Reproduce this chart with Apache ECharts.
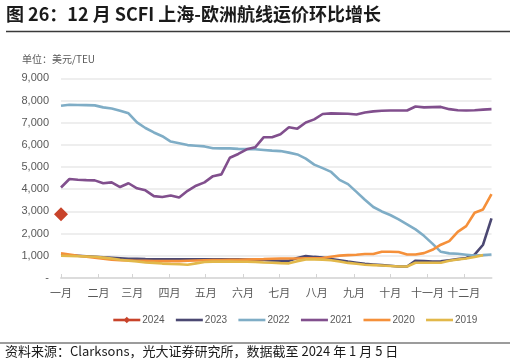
<!DOCTYPE html>
<html>
<head>
<meta charset="utf-8">
<script src="https://cdn.jsdelivr.net/npm/echarts@6/dist/echarts.min.js"></script>
<style>
html,body{margin:0;padding:0;background:#fff;}
#c{width:516px;height:364px;}
</style>
</head>
<body>
<div id="c"></div>
<script>
// Weekly points (day offset = week index * 7)
const monthStarts = [0, 31, 59, 90, 120, 151, 181, 212, 243, 273, 304, 334];
const monthNames = ['一月','二月','三月','四月','五月','六月','七月','八月','九月','十月','十一月','十二月'];
const yTicks = [0, 1000, 2000, 3000, 4000, 5000, 6000, 7000, 8000, 9000];

const s2024 = [2870];
const s2023 = [1040,1020,1000,980,960,930,910,890,870,860,850,845,840,840,840,845,840,840,840,840,840,840,830,820,810,790,780,780,900,990,950,920,850,800,740,690,640,610,580,550,520,520,780,760,740,750,800,850,900,1050,1500,2690];
const s2022 = [7760,7810,7800,7790,7780,7690,7640,7540,7420,7010,6760,6560,6390,6150,6070,5990,5960,5930,5850,5840,5840,5820,5810,5800,5770,5740,5720,5650,5570,5380,5110,4950,4780,4420,4230,3880,3530,3200,3000,2840,2640,2420,2190,1900,1550,1180,1110,1090,1050,1010,1030,1060];
const s2021 = [4080,4460,4430,4410,4400,4270,4310,4100,4270,4040,3950,3690,3650,3720,3630,3930,4160,4310,4590,4670,5420,5590,5800,5890,6340,6340,6480,6790,6730,7010,7150,7390,7420,7410,7400,7370,7460,7510,7540,7550,7550,7550,7730,7690,7700,7710,7610,7560,7550,7560,7590,7610];
const s2020 = [1110,1060,1000,960,920,870,820,800,790,780,770,760,760,760,760,780,790,800,810,810,815,820,830,840,850,870,880,880,880,890,890,900,960,1010,1030,1050,1080,1080,1180,1180,1170,1060,1060,1120,1270,1500,1660,2080,2340,2940,3090,3780];
const s2019 = [1000,990,980,970,960,920,880,820,780,740,700,680,650,630,620,600,660,720,740,740,740,735,730,720,700,690,670,660,760,840,840,830,800,740,680,640,600,580,560,540,520,520,690,690,690,690,780,830,880,950,1030];

const seriesNames = ['2024','2023','2022','2021','2020','2019'];
const seriesData = [s2024, s2023, s2022, s2021, s2020, s2019];
const colors = ['#C8432A','#4B4872','#7FADC6','#814F8D','#F5903A','#E2B84A'];

function toPairs(arr){ return arr.map((v,i)=>[i*7, v]); }

const fontLatin = "'Liberation Sans','Noto Sans CJK SC',sans-serif";
const fontCJK = "'Noto Sans CJK SC','Liberation Sans',sans-serif";

const chart = echarts.init(document.getElementById('c'), null, {renderer:'canvas'});

const series = seriesNames.map((name, k) => {
  const base = {
    name: name,
    type: 'line',
    data: toPairs(seriesData[k]),
    color: colors[k],
    lineStyle: {width: 2.6, color: colors[k]},
    animation: false,
    silent: true
  };
  if (k === 0) {
    base.symbol = 'diamond';
    base.symbolSize = 14;
    base.showSymbol = true;
    base.itemStyle = {color: colors[k]};
  } else {
    base.symbol = 'none';
    base.showSymbol = false;
  }
  return base;
});

chart.setOption({
  backgroundColor: '#fff',
  animation: false,
  color: colors,
  grid: {left: 61, right: 24.5, top: 78.3, bottom: 86},
  xAxis: {
    type: 'value',
    min: 0,
    max: 357,
    splitLine: {show: false},
    axisLine: {show: true, lineStyle: {color: '#dcdcdc', width: 2}},
    axisTick: {show: true, inside: true, length: 4, customValues: monthStarts, lineStyle: {color: '#d4d4d4', width: 1}},
    axisLabel: {
      customValues: monthStarts,
      color: '#595959',
      fontSize: 11,
      fontFamily: fontCJK,
      margin: 9,
      formatter: function(v){ const i = monthStarts.indexOf(v); return i >= 0 ? monthNames[i] : ''; }
    }
  },
  yAxis: {
    type: 'value',
    min: yTicks[0],
    max: yTicks[yTicks.length-1],
    interval: 1000,
    axisLine: {show: false},
    axisTick: {show: false},
    splitLine: {show: true, lineStyle: {color: '#e8e8e8', width: 1.5}},
    axisLabel: {
      color: '#595959',
      fontSize: 11,
      fontFamily: fontLatin,
      margin: 12,
      formatter: function(v){ return v === 0 ? '-' : v.toLocaleString('en-US'); }
    }
  },
  legend: {
    left: 107,
    top: 310,
    itemWidth: 27,
    itemHeight: 8,
    itemGap: 10,
    lineStyle: {width: 2.6},
    data: seriesNames.map((n, k) => (k === 0 ? {name: n} : {name: n, itemStyle: {opacity: 0}})),
    textStyle: {color: '#595959', fontSize: 10, fontFamily: fontLatin, padding: [0,0,0,-3]}
  },
  graphic: [
    {type: 'text', left: 6, top: 5, style: {text: '图 26：12 月 SCFI 上海-欧洲航线运价环比增长', font: "bold 18px 'Noto Sans CJK SC'", fill: '#1a1a1a'}},
    {type: 'line', shape: {x1: 6, y1: 31.5, x2: 510, y2: 31.5}, style: {stroke: '#3a3a3a', lineWidth: 1.5}},
    {type: 'text', left: 22, top: 54, style: {text: '单位：美元/TEU', font: "10px 'Noto Sans CJK SC'", fill: '#595959'}},
    {type: 'line', shape: {x1: 0, y1: 343, x2: 510, y2: 343}, style: {stroke: '#3a3a3a', lineWidth: 1.2}},
    {type: 'text', left: 5, top: 345, style: {text: '资料来源：Clarksons，光大证券研究所，数据截至 2024 年 1 月 5 日', font: "13px 'Noto Sans CJK SC'", fill: '#1a1a1a'}}
  ],
  series: series
});
</script>
</body>
</html>
